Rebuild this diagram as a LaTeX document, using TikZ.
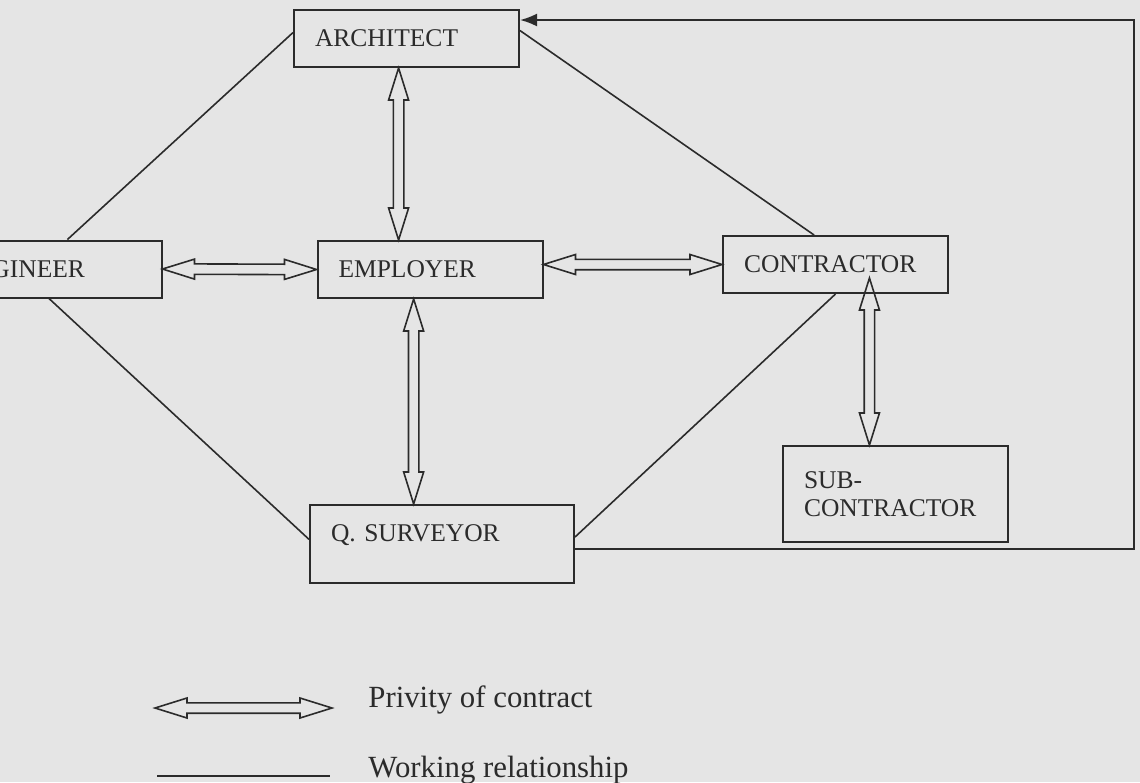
\documentclass[tikz,border=0pt]{standalone}
\usepackage{fontspec}
\setmainfont{Liberation Serif}
\usetikzlibrary{calc,arrows.meta}

\definecolor{paper}{HTML}{E5E5E5}
\definecolor{ink}{HTML}{2B2B2B}

% hollow double arrow for privity of contract
\newcommand{\privhead}{16pt}
\newcommand{\privhalf}{5pt}
\newcommand{\privshaft}{2.6pt}
\newcommand{\privity}[2]{%
  \draw[privline] (#1)
    -- ($(#1)!\privhead!(#2)!\privhalf!90:(#2)$)
    -- ($(#1)!\privhead!(#2)!\privshaft!90:(#2)$)
    -- ($(#2)!\privhead!(#1)!\privshaft!270:(#1)$)
    -- ($(#2)!\privhead!(#1)!\privhalf!270:(#1)$)
    -- (#2)
    -- ($(#2)!\privhead!(#1)!\privhalf!90:(#1)$)
    -- ($(#2)!\privhead!(#1)!\privshaft!90:(#1)$)
    -- ($(#1)!\privhead!(#2)!\privshaft!270:(#2)$)
    -- ($(#1)!\privhead!(#2)!\privhalf!270:(#2)$)
    -- cycle;}

\begin{document}
\begin{tikzpicture}[x=0.5pt,y=-0.5pt,
  box/.style={draw=ink, line width=1pt, rectangle, align=left, inner xsep=10.5pt,
    text width=91.5pt, minimum height=28.5pt, text=ink,
    font=\fontsize{12.75}{14}\selectfont},
  work/.style={draw=ink, line width=0.8pt},
  privline/.style={draw=ink, line width=0.8pt, line join=miter},
  backline/.style={draw=ink, line width=1pt, -{Latex[length=8.5pt,width=6.5pt]}},
  legtext/.style={font=\fontsize{15.4}{18}\selectfont, text=ink, anchor=west, inner sep=0pt}]

\fill[paper] (0,0) rectangle (1140,782);
\clip (0,0) rectangle (1140,782);

% parties
\node[box] (arch) at (406.5,38.5) {ARCHITECT};
\node[box] (eng) at (49,269) {ENGINEER};
\node[box] (emp) at (430,269.5) {EMPLOYER};
\node[box] (con) at (835.5,264.5) {CONTRACTOR};
\node[box, text width=111pt, minimum height=39pt, text height=9pt, text depth=11.4pt] (qs) at (442,544) {Q. SURVEYOR};
\node[box, minimum height=48pt] (sub) at (895.5,494) {SUB-\\CONTRACTOR};

% working relationships
\draw[work] (arch.177) -- (eng.58);
\draw[work] (arch.4) -- (con.126);
\draw[work] (eng.south) -- (qs.178);
\draw[work] (con.south) -- (qs.3);

% back to the architect
\coordinate (corner) at (1134,20);
\draw[backline] (qs.358) -| (corner) -- (corner -| arch.east);

% privity of contract
\coordinate (emptop) at (arch.255 |- emp.north);
\coordinate (empright) at (emp.east |- con.west);
\coordinate (qstop) at (emp.241 |- qs.north);
\coordinate (conbot) at (sub.118 |- con.south);
\coordinate (contip) at ($(conbot)+(0,-16)$);
\privity{arch.255}{emptop}
\privity{eng.east}{emp.west}
\privity{empright}{con.west}
\privity{emp.241}{qstop}
\privity{contip}{sub.118}

% legend
\coordinate (legA) at (155,708);
\coordinate (legB) at (332,708);
\privity{legA}{legB}
\node[legtext] (privtext) at (368,700) {Privity of contract};
\coordinate (legC) at (157,776);
\coordinate (legD) at (330,776);
\draw[work] (legC) -- (legD);
\node[legtext] (worktext) at (368,770) {Working relationship};
\end{tikzpicture}
\end{document}
